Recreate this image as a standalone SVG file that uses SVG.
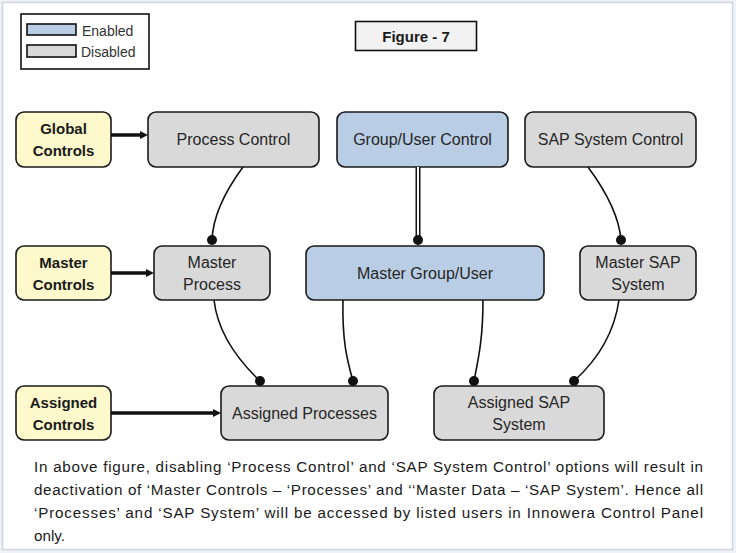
<svg xmlns="http://www.w3.org/2000/svg" width="736" height="553" viewBox="0 0 736 553">
<style>
.node{stroke:#1a1a1a;stroke-width:1.6}
.gray{fill:#d9d9d9}
.blue{fill:#b9cde5}
.yel{fill:#fdf9cc}
.lbl{font-family:"Liberation Sans",Arial,sans-serif;font-size:16px;fill:#262626;text-anchor:middle}
.blbl{font-family:"Liberation Sans",Arial,sans-serif;font-size:15px;font-weight:bold;fill:#1a1a1a;text-anchor:middle}
.para{font-family:"Liberation Sans",Arial,sans-serif;font-size:15.2px;fill:#1a1a1a}
.con{fill:none;stroke:#111;stroke-width:1.6}
.thick{fill:none;stroke:#111;stroke-width:3.5}
</style>
<rect x="0" y="0" width="736" height="553" fill="#eef1f6"/>
<rect x="2.5" y="2.5" width="730" height="547" fill="#ffffff" stroke="#cdd5e0" stroke-width="1.5"/>
<g id="legend">
<rect x="21" y="14" width="128" height="55" fill="#fff" stroke="#111" stroke-width="1.6"/>
<rect x="27" y="24" width="49" height="11" class="blue" stroke="#111" stroke-width="1.6"/>
<rect x="27" y="45" width="49" height="12" class="gray" stroke="#111" stroke-width="1.6"/>
<text x="82" y="36" font-family="Liberation Sans,Arial,sans-serif" font-size="14" fill="#333">Enabled</text>
<text x="81" y="57" font-family="Liberation Sans,Arial,sans-serif" font-size="14" fill="#333">Disabled</text>
</g>
<g id="figure-title">
<rect x="355.5" y="21.5" width="121" height="29" fill="#f2f2f2" stroke="#111" stroke-width="1.6"/>
<text x="416" y="42" class="blbl" font-size="15.5">Figure - 7</text>
</g>
<g id="global-controls"><rect class="node yel" x="16" y="112" width="95" height="55" rx="8"/><text class="blbl" x="63.5" y="134">Global</text><text class="blbl" x="63.5" y="156">Controls</text></g>
<g id="process-control"><rect class="node gray" x="148" y="112" width="171" height="55" rx="8"/><text class="lbl" x="233.5" y="145">Process Control</text></g>
<g id="group-user-control"><rect class="node blue" x="337" y="112" width="171" height="55" rx="8"/><text class="lbl" x="422.5" y="145">Group/User Control</text></g>
<g id="sap-system-control"><rect class="node gray" x="525" y="112" width="171" height="55" rx="8"/><text class="lbl" x="610.5" y="145">SAP System Control</text></g>
<g id="master-controls"><rect class="node yel" x="16" y="246" width="95" height="54" rx="8"/><text class="blbl" x="63.5" y="268">Master</text><text class="blbl" x="63.5" y="290">Controls</text></g>
<g id="master-process"><rect class="node gray" x="154" y="246" width="116" height="54" rx="8"/><text class="lbl" x="212" y="268">Master</text><text class="lbl" x="212" y="290">Process</text></g>
<g id="master-group-user"><rect class="node blue" x="306" y="246" width="238" height="54" rx="8"/><text class="lbl" x="425" y="279">Master Group/User</text></g>
<g id="master-sap-system"><rect class="node gray" x="580" y="246" width="116" height="54" rx="8"/><text class="lbl" x="638" y="268">Master SAP</text><text class="lbl" x="638" y="290">System</text></g>
<g id="assigned-controls"><rect class="node yel" x="16" y="386" width="95" height="54" rx="8"/><text class="blbl" x="63.5" y="408">Assigned</text><text class="blbl" x="63.5" y="430">Controls</text></g>
<g id="assigned-processes"><rect class="node gray" x="221" y="386" width="167" height="54" rx="8"/><text class="lbl" x="304.5" y="419">Assigned Processes</text></g>
<g id="assigned-sap-system"><rect class="node gray" x="434" y="386" width="170" height="54" rx="8"/><text class="lbl" x="519" y="408">Assigned SAP</text><text class="lbl" x="519" y="430">System</text></g>
<g id="connectors">
<line class="thick" x1="111" y1="135" x2="142" y2="135"/><polygon points="140,131 148,135 140,139" fill="#111"/>
<line class="thick" x1="111" y1="273" x2="148" y2="273"/><polygon points="146,269 154,273 146,277" fill="#111"/>
<line class="thick" x1="111" y1="413" x2="215" y2="413"/><polygon points="213,409 221,413 213,417" fill="#111"/>
<path class="con" d="M243,167 C226,190 213,215 212,240"/><circle cx="212" cy="240" r="5" fill="#111"/>
<line x1="418" y1="167" x2="418" y2="240" stroke="#111" stroke-width="5"/><line x1="418" y1="167" x2="418" y2="238" stroke="#fff" stroke-width="2"/><circle cx="418" cy="240" r="5" fill="#111"/>
<path class="con" d="M588,167 C605,190 619,215 621,240"/><circle cx="621" cy="240" r="5" fill="#111"/>
<path class="con" d="M214,300 C218,335 240,362 260,381"/><circle cx="260" cy="381" r="5" fill="#111"/>
<path class="con" d="M343,300 C342,340 347,360 353,381"/><circle cx="353" cy="381" r="5" fill="#111"/>
<path class="con" d="M483,300 C483,340 478,360 474,381"/><circle cx="474" cy="381" r="5" fill="#111"/>
<path class="con" d="M619,300 C614,335 595,362 574,381"/><circle cx="574" cy="381" r="5" fill="#111"/>
</g>
<g id="caption">
<text class="para" x="34" y="472" textLength="669" lengthAdjust="spacing">In above figure, disabling ‘Process Control’ and ‘SAP System Control’ options will result in</text>
<text class="para" x="34" y="495" textLength="669" lengthAdjust="spacing">deactivation of ‘Master Controls – ‘Processes’ and ‘‘Master Data – ‘SAP System’. Hence all</text>
<text class="para" x="34" y="518" textLength="669" lengthAdjust="spacing">‘Processes’ and ‘SAP System’ will be accessed by listed users in Innowera Control Panel</text>
<text class="para" x="34" y="541">only.</text>
</g>
</svg>
